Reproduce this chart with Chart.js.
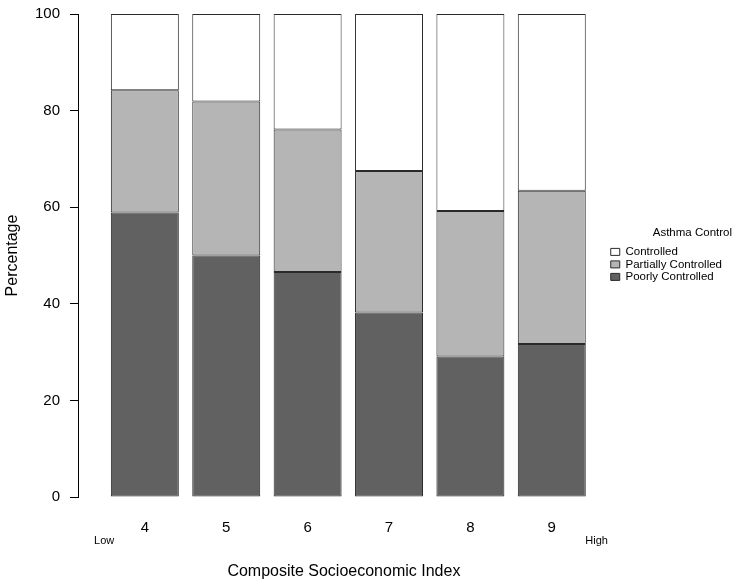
<!DOCTYPE html>
<html>
<head>
<meta charset="utf-8">
<script src="https://cdn.jsdelivr.net/npm/chart.js@4"></script>
<style>
  html, body { margin: 0; padding: 0; background: #fff; }
  #wrap { width: 752px; height: 584px; }
</style>
</head>
<body>
<div id="wrap"><canvas id="asthmaChart" width="752" height="584"></canvas></div>
<script>
// Composite socioeconomic index (4 = low ... 9 = high)
var categories = [4, 5, 6, 7, 8, 9];

// Percentage of children in each asthma control group
var poorlyControlled    = [58.9, 50.0, 46.6, 38.2, 29.1, 31.7];
var partiallyControlled = [25.3, 31.9, 29.5, 29.3, 30.1, 31.7];
var controlled          = [15.8, 18.1, 23.9, 32.5, 40.8, 36.6];

var yTicks = [0, 20, 40, 60, 80, 100];
var endLabels = [{ value: 3.5, text: 'Low' }, { value: 9.55, text: 'High' }];

var FONT = '"Liberation Sans", Arial, Helvetica, sans-serif';
Chart.defaults.font.family = FONT;
Chart.defaults.color = '#000';

// "Low" / "High" under the ends of the x axis
var endLabelPlugin = {
    id: 'endLabels',
    afterDraw: function (chart) {
        var ctx = chart.ctx;
        var x = chart.scales.x;
        ctx.save();
        ctx.font = '11px ' + FONT;
        ctx.fillStyle = '#000';
        ctx.textAlign = 'center';
        ctx.textBaseline = 'middle';
        endLabels.forEach(function (l) {
            ctx.fillText(l.text, x.getPixelForValue(l.value), 541);
        });
        ctx.restore();
    }
};

function barSet(label, values, colour) {
    return {
        label: label,
        data: values,
        backgroundColor: colour,
        borderColor: '#2a2a2a',
        borderWidth: 1,
        borderSkipped: false,
        barPercentage: 0.835,
        categoryPercentage: 1.0
    };
}

var ctx = document.getElementById('asthmaChart').getContext('2d');
new Chart(ctx, {
    type: 'bar',
    data: {
        labels: categories,
        datasets: [
            barSet('Poorly Controlled', poorlyControlled, '#616161'),
            barSet('Partially Controlled', partiallyControlled, '#b5b5b5'),
            barSet('Controlled', controlled, '#ffffff')
        ]
    },
    plugins: [endLabelPlugin],
    options: {
        responsive: false,
        animation: false,
        layout: { padding: { top: 14, right: 20, bottom: 0, left: 0 } },
        plugins: {
            tooltip: { enabled: false },
            legend: {
                position: 'right',
                fullSize: false,
                align: 'center',
                reverse: true,
                title: {
                    display: true,
                    text: 'Asthma Control',
                    position: 'end',
                    color: '#000',
                    font: { size: 11.5, weight: 'normal' },
                    padding: { top: 0, bottom: 4 }
                },
                labels: {
                    boxWidth: 9,
                    boxHeight: 7,
                    padding: 1,
                    color: '#000',
                    font: { size: 11.5, lineHeight: 1 }
                }
            }
        },
        scales: {
            x: {
                type: 'linear',
                stacked: true,
                offset: false,
                min: 3.179,
                max: 9.712,
                bounds: 'data',
                grid: { display: false, drawTicks: false },
                border: { display: false },
                afterBuildTicks: function (scale) {
                    scale.ticks = categories.map(function (v) { return { value: v }; });
                },
                ticks: {
                    font: { size: 15 },
                    color: '#000',
                    padding: 22,
                    callback: function (v) { return String(v); }
                },
                title: {
                    display: true,
                    text: 'Composite Socioeconomic Index',
                    color: '#000',
                    font: { size: 16 },
                    padding: { top: 3.4, bottom: 2.4 }
                }
            },
            y: {
                stacked: true,
                min: 0,
                max: 100,
                afterBuildTicks: function (scale) {
                    scale.ticks = yTicks.map(function (v) { return { value: v }; });
                },
                grid: {
                    drawOnChartArea: false,
                    tickLength: 8,
                    color: '#000'
                },
                border: { display: true, color: '#000', width: 1 },
                ticks: {
                    font: { size: 15, lineHeight: 0.4 },
                    color: '#000',
                    padding: 10
                },
                title: {
                    display: true,
                    text: 'Percentage',
                    color: '#000',
                    font: { size: 16 },
                    padding: { top: 3.4, bottom: 2.4 }
                }
            }
        }
    }
});
</script>
</body>
</html>
